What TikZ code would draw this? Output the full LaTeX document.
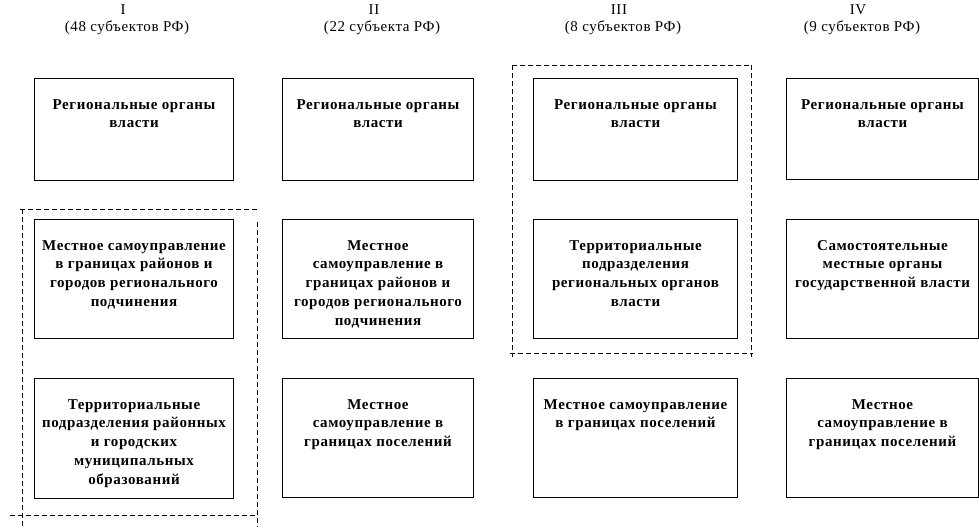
\documentclass[tikz,border=0pt]{standalone}
\usepackage{fontspec}
\setmainfont[LetterSpace=4]{Liberation Serif}
\begin{document}
\begin{tikzpicture}[x=1pt,y=-1pt,
  box/.style={draw,line width=1pt,inner sep=0pt,anchor=north west},
  txt/.style={font=\bfseries\fontsize{15}{18.8}\selectfont,align=center,inner sep=0pt,anchor=north},
  hdr/.style={font=\fontsize{15}{18}\selectfont,align=center,inner sep=0pt},
  frame/.style={line width=0.9pt,dash pattern=on 5pt off 3pt}]
\useasboundingbox (0,0) rectangle (979,527);
% headers
\node[hdr] (h1) at (123,10) {I};
\node[hdr] (h1b) at (127,28) {(48 субъектов РФ)};
\node[hdr] (h2) at (374,10) {II};
\node[hdr] (h2b) at (382,28) {(22 субъекта РФ)};
\node[hdr] (h3) at (619,10) {III};
\node[hdr] (h3b) at (623,28) {(8 субъектов РФ)};
\node[hdr] (h4) at (858,10) {IV};
\node[hdr] (h4b) at (862,28) {(9 субъектов РФ)};
% boxes
\node[box,minimum width=199pt,minimum height=102pt] (b11) at (34,78) {};
\node[box,minimum width=191pt,minimum height=102pt] (b21) at (282,78) {};
\node[box,minimum width=204pt,minimum height=102pt] (b31) at (533,78) {};
\node[box,minimum width=192pt,minimum height=101pt] (b41) at (786,78) {};
\node[box,minimum width=199pt,minimum height=119pt] (b12) at (34,219) {};
\node[box,minimum width=191pt,minimum height=119pt] (b22) at (282,219) {};
\node[box,minimum width=204pt,minimum height=119pt] (b32) at (533,219) {};
\node[box,minimum width=192pt,minimum height=119pt] (b42) at (786,219) {};
\node[box,minimum width=199pt,minimum height=120pt] (b13) at (34,378) {};
\node[box,minimum width=191pt,minimum height=119pt] (b23) at (282,378) {};
\node[box,minimum width=204pt,minimum height=119pt] (b33) at (533,378) {};
\node[box,minimum width=192pt,minimum height=119pt] (b43) at (786,378) {};
% texts
\node[txt] (t11) at ([yshift=-21pt]b11.north) {Региональные органы\\власти};
\node[txt] (t21) at ([yshift=-21pt]b21.north) {Региональные органы\\власти};
\node[txt] (t31) at ([yshift=-21pt]b31.north) {Региональные органы\\власти};
\node[txt] (t41) at ([yshift=-21pt]b41.north) {Региональные органы\\власти};
\node[txt] (t12) at ([yshift=-21pt]b12.north) {Местное самоуправление\\в границах районов и\\городов регионального\\подчинения};
\node[txt] (t22) at ([yshift=-21pt]b22.north) {Местное\\самоуправление в\\границах районов и\\городов регионального\\подчинения};
\node[txt] (t32) at ([yshift=-21pt]b32.north) {Территориальные\\подразделения\\региональных органов\\власти};
\node[txt] (t42) at ([yshift=-21pt]b42.north) {Самостоятельные\\местные органы\\государственной власти};
\node[txt] (t13) at ([yshift=-21pt]b13.north) {Территориальные\\подразделения районных\\и городских\\муниципальных\\образований};
\node[txt] (t23) at ([yshift=-21pt]b23.north) {Местное\\самоуправление в\\границах поселений};
\node[txt] (t33) at ([yshift=-21pt]b33.north) {Местное самоуправление\\в границах поселений};
\node[txt] (t43) at ([yshift=-21pt]b43.north) {Местное\\самоуправление в\\границах поселений};
% dashed frame I
\draw[frame] (20,209) -- (258,209);
\draw[frame] (22,209) -- (22,527);
\draw[frame] (257,222) -- (257,527);
\draw[frame] (10,515) -- (258,515);
% dashed frame III
\draw[frame] (512,65) -- (751,65);
\draw[frame] (512,65) -- (512,357);
\draw[frame] (751,65) -- (751,357);
\draw[frame] (510,353) -- (753,353);
\end{tikzpicture}
\end{document}
